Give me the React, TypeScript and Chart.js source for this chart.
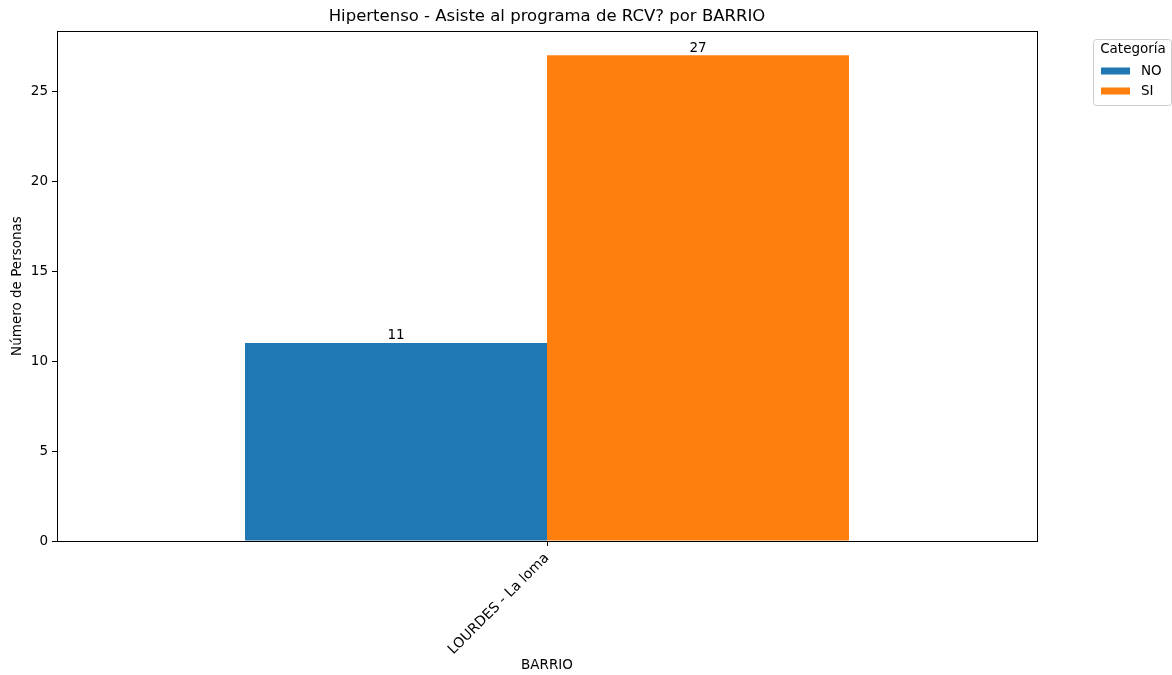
import React, { useEffect, useRef } from "react";
import { Chart, registerables } from "chart.js";

Chart.register(...registerables);

const categories = ["LOURDES - La loma"];
const seriesNames = ["NO", "SI"];
const noValues = [11];
const siValues = [27];
const seriesColors = ["#1f77b4", "#ff7f0e"];
const yTickStep = 5;
const yMax = 28.35;
const chartTitle = "Hipertenso - Asiste al programa de RCV? por BARRIO";
const xTitle = "BARRIO";
const yTitle = "Número de Personas";
const legendTitle = "Categoría";

const FONT = "'DejaVu Sans', sans-serif";

const decorPlugin = {
  id: "decor",
  afterDatasetsDraw(chart: any) {
    const ctx = chart.ctx;
    const a = chart.chartArea;
    ctx.save();
    // border spines
    ctx.strokeStyle = "#000";
    ctx.lineWidth = 1;
    const l = Math.floor(a.left) + 0.5;
    const t = Math.floor(a.top) + 0.5;
    const r = Math.floor(a.right) + 0.5;
    const b = Math.floor(a.bottom) + 0.5;
    ctx.strokeRect(l, t, r - l, b - t);
    // value labels
    ctx.fillStyle = "#000";
    ctx.font = `13.5px ${FONT}`;
    ctx.textAlign = "center";
    ctx.textBaseline = "bottom";
    chart.data.datasets.forEach((ds: any, i: number) => {
      const meta = chart.getDatasetMeta(i);
      meta.data.forEach((el: any, j: number) => {
        ctx.fillText(String(ds.data[j]), el.x, el.y - 0.5);
      });
    });
    // title
    ctx.font = `16.5px ${FONT}`;
    ctx.textBaseline = "middle";
    ctx.fillText(chartTitle, (a.left + a.right) / 2, 17);
    // x title
    ctx.font = `13.5px ${FONT}`;
    ctx.fillText(xTitle, (a.left + a.right) / 2, 665);
    // y title
    ctx.save();
    ctx.translate(17, (a.top + a.bottom) / 2);
    ctx.rotate(-Math.PI / 2);
    ctx.fillText(yTitle, 0, 0);
    ctx.restore();
    // legend
    const lx = 1093, ly = 39, lw = 78, lh = 66;
    ctx.beginPath();
    ctx.roundRect(lx + 0.5, ly + 0.5, lw, lh, 3);
    ctx.fillStyle = "rgba(255,255,255,0.8)";
    ctx.fill();
    ctx.strokeStyle = "#cccccc";
    ctx.stroke();
    ctx.fillStyle = "#000";
    ctx.font = `13.5px ${FONT}`;
    ctx.textAlign = "center";
    ctx.fillText(legendTitle, lx + lw / 2 + 1, 49);
    chart.data.datasets.forEach((ds: any, i: number) => {
      const cy = 71 + i * 20;
      ctx.fillStyle = ds.backgroundColor;
      ctx.fillRect(1101, cy - 3.5, 29, 7);
      ctx.fillStyle = "#000";
      ctx.textAlign = "left";
      ctx.fillText(ds.label, 1141, cy);
    });
    ctx.restore();
  },
};

export default function App() {
  const ref = useRef<HTMLCanvasElement | null>(null);
  useEffect(() => {
    document.body.style.margin = "0";
    const c = new Chart(ref.current as HTMLCanvasElement, {
      type: "bar",
      data: {
        labels: categories,
        datasets: [
          { label: seriesNames[0], data: noValues, backgroundColor: seriesColors[0], borderWidth: 0 },
          { label: seriesNames[1], data: siValues, backgroundColor: seriesColors[1], borderWidth: 0 },
        ],
      },
      options: {
        responsive: false,
        animation: false,
        devicePixelRatio: 1,
        layout: { padding: { top: 31, right: 135, left: 0, bottom: 0 } },
        datasets: { bar: { categoryPercentage: 0.6163, barPercentage: 1 } },
        plugins: { legend: { display: false }, title: { display: false }, tooltip: { enabled: false } },
        scales: {
          x: {
            offset: true,
            grid: { offset: false, drawOnChartArea: false, drawTicks: true, tickLength: 5, color: "#000" },
            border: { display: false },
            ticks: {
              color: "#000",
              font: { family: FONT, size: 14 },
              minRotation: 45,
              maxRotation: 45,
              padding: 4,
              autoSkip: false,
            },
            afterFit(scale: any) {
              scale.height = 134;
            },
          },
          y: {
            min: 0,
            max: yMax,
            grid: { drawOnChartArea: false, drawTicks: true, tickLength: 5, color: "#000" },
            border: { display: false },
            ticks: {
              stepSize: yTickStep,
              color: "#000",
              font: { family: FONT, size: 13.5 },
              padding: 4,
              includeBounds: false,
            },
            afterBuildTicks(scale: any) {
              scale.ticks = scale.ticks.filter((t: any) => t.value % yTickStep === 0);
            },
            afterFit(scale: any) {
              scale.width = 57;
            },
          },
        },
      },
      plugins: [decorPlugin],
    } as any);
    return () => c.destroy();
  }, []);
  return <canvas ref={ref} width={1172} height={675} style={{ display: "block" }} />;
}
